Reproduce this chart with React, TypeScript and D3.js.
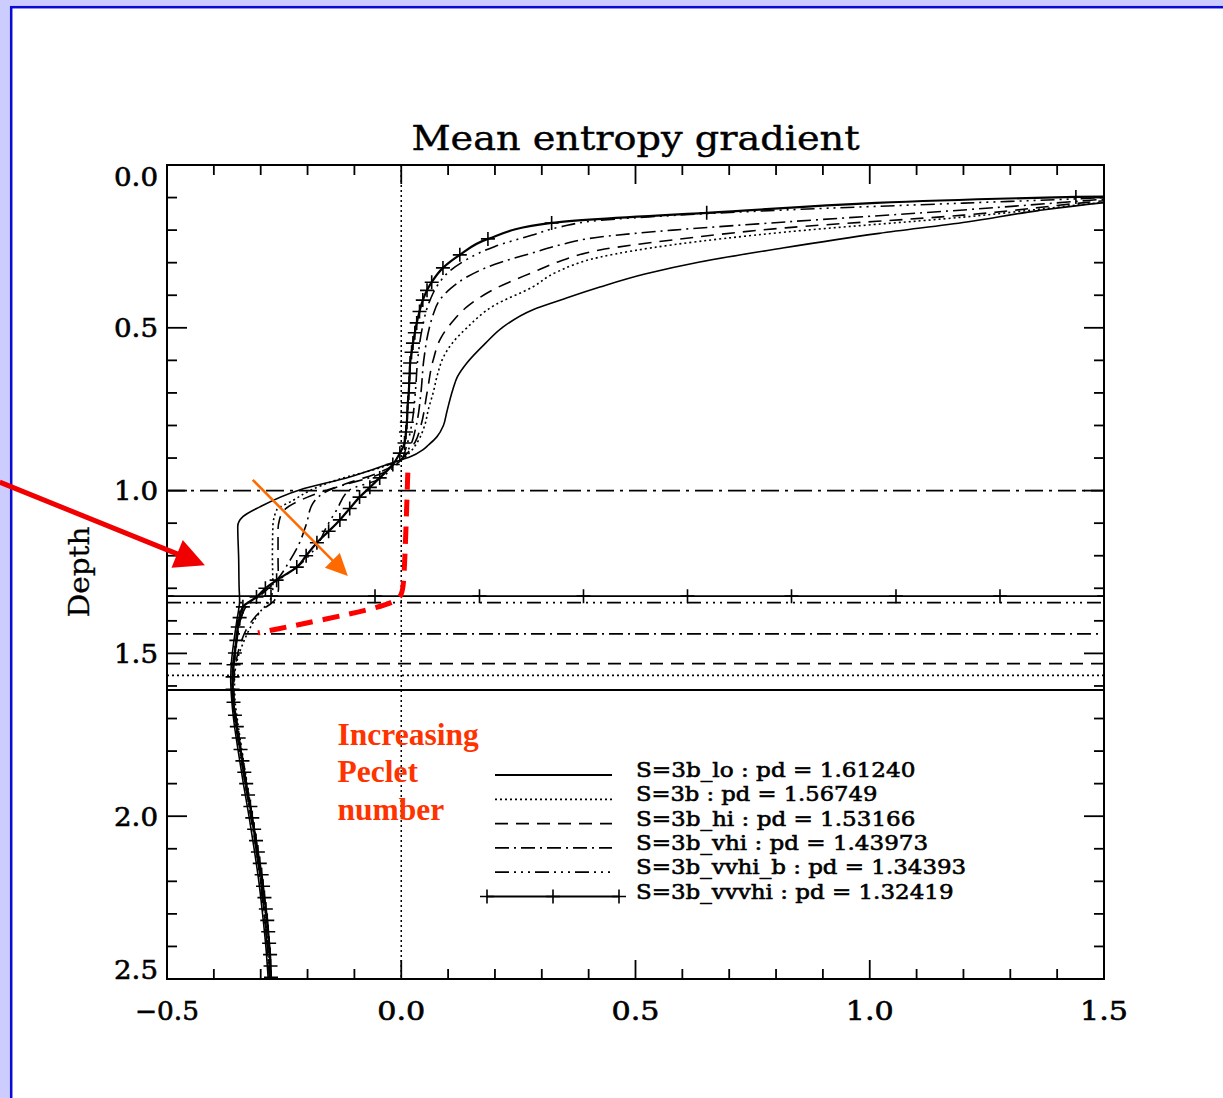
import React from 'react';
import * as d3 from 'd3';

// Axis domains and tick labels
const gradDomain: [number, number] = [-0.5, 1.5];
const depthDomain: [number, number] = [0, 2.5];
const xMajorTicks = [-0.5, 0, 0.5, 1.0, 1.5];
const xTickLabels = ['\u22120.5', '0.0', '0.5', '1.0', '1.5'];
const yMajorTicks = [0, 0.5, 1.0, 1.5, 2.0, 2.5];
const yTickLabels = ['0.0', '0.5', '1.0', '1.5', '2.0', '2.5'];

// Run labels and penetration depths (pd)
const runLabels = [
  'S=3b_lo : pd = 1.61240',
  'S=3b : pd = 1.56749',
  'S=3b_hi : pd = 1.53166',
  'S=3b_vhi : pd = 1.43973',
  'S=3b_vvhi_b : pd = 1.34393',
  'S=3b_vvvhi : pd = 1.32419',
];
const penetrationDepths = [1.6124, 1.56749, 1.53166, 1.43973, 1.34393, 1.32419];
const convectionBase = 1.0;

// Profiles: [depth, mean entropy gradient]
const profLo: [number, number][] = [
  [0.1, 1.62], [0.117, 1.49], [0.14, 1.36], [0.175, 1.207], [0.21, 1.02], [0.255, 0.814],
  [0.298, 0.637], [0.335, 0.52], [0.375, 0.424], [0.41, 0.35], [0.445, 0.28], [0.5, 0.215],
  [0.547, 0.18], [0.608, 0.14], [0.65, 0.12], [0.69, 0.11], [0.76, 0.097], [0.8, 0.09],
  [0.835, 0.076], [0.86, 0.058], [0.875, 0.046], [0.897, 0.018], [0.91, -0.01], [0.93, -0.05],
  [0.958, -0.11], [0.998, -0.217], [1.05, -0.302], [1.08, -0.338], [1.11, -0.349], [1.21, -0.347],
  [1.3, -0.346], [1.336, -0.345], [1.4, -0.351], [1.46, -0.357], [1.52, -0.362], [1.58, -0.364],
  [1.64, -0.362], [1.7, -0.358], [1.8, -0.348], [1.9, -0.337], [2.0, -0.325], [2.1, -0.314],
  [2.2, -0.304], [2.3, -0.296], [2.4, -0.289], [2.5, -0.284],
];
const profBase: [number, number][] = [
  [0.095, 1.65], [0.115, 1.5], [0.16, 1.2], [0.206, 0.82], [0.245, 0.58], [0.283, 0.424],
  [0.33, 0.33], [0.375, 0.28], [0.43, 0.2], [0.5, 0.14], [0.545, 0.11], [0.59, 0.09],
  [0.64, 0.078], [0.7, 0.068], [0.75, 0.058], [0.8, 0.05], [0.85, 0.035], [0.88, 0.02],
  [0.905, 0.0], [0.927, -0.039], [0.967, -0.137], [1.0, -0.195], [1.03, -0.231], [1.06, -0.266],
  [1.11, -0.274], [1.2, -0.275], [1.296, -0.274], [1.336, -0.28], [1.37, -0.3], [1.42, -0.322],
  [1.47, -0.338], [1.52, -0.35], [1.58, -0.356], [1.64, -0.355], [1.7, -0.35], [1.8, -0.34],
  [1.9, -0.329], [2.0, -0.318], [2.1, -0.307], [2.2, -0.298], [2.3, -0.29], [2.4, -0.284],
  [2.5, -0.279],
];
const profHi: [number, number][] = [
  [0.092, 1.65], [0.11, 1.5], [0.154, 1.2], [0.193, 0.82], [0.23, 0.58], [0.261, 0.424],
  [0.295, 0.34], [0.33, 0.28], [0.38, 0.2], [0.436, 0.14], [0.48, 0.11], [0.53, 0.085],
  [0.6, 0.068], [0.7, 0.055], [0.8, 0.042], [0.85, 0.03], [0.88, 0.016], [0.905, 0.0],
  [0.94, -0.04], [0.98, -0.12], [1.02, -0.2], [1.06, -0.25], [1.09, -0.26], [1.12, -0.263],
  [1.2, -0.263], [1.3, -0.262], [1.336, -0.27], [1.37, -0.3], [1.42, -0.328], [1.47, -0.343],
  [1.52, -0.352], [1.58, -0.357], [1.64, -0.357], [1.7, -0.352], [1.8, -0.342], [1.9, -0.331],
  [2.0, -0.32], [2.1, -0.309], [2.2, -0.3], [2.3, -0.292], [2.4, -0.285], [2.5, -0.28],
];
const profVhi: [number, number][] = [
  [0.088, 1.65], [0.105, 1.5], [0.138, 1.2], [0.175, 0.82], [0.2, 0.58], [0.221, 0.424],
  [0.245, 0.34], [0.27, 0.28], [0.305, 0.2], [0.344, 0.14], [0.38, 0.105], [0.415, 0.082],
  [0.46, 0.068], [0.5, 0.06], [0.6, 0.048], [0.7, 0.042], [0.8, 0.032], [0.86, 0.02],
  [0.905, 0.0], [0.946, -0.039], [0.998, -0.153], [1.04, -0.189], [1.1, -0.202], [1.16, -0.217],
  [1.22, -0.24], [1.275, -0.266], [1.327, -0.309], [1.36, -0.333], [1.42, -0.346], [1.47, -0.352],
  [1.52, -0.357], [1.58, -0.36], [1.64, -0.359], [1.7, -0.354], [1.8, -0.344], [1.9, -0.333],
  [2.0, -0.321], [2.1, -0.31], [2.2, -0.3], [2.3, -0.292], [2.4, -0.286], [2.5, -0.281],
];
const profVvhiB: [number, number][] = [
  [0.085, 1.65], [0.1, 1.5], [0.117, 1.2], [0.138, 0.82], [0.155, 0.58], [0.17, 0.424],
  [0.19, 0.34], [0.215, 0.28], [0.25, 0.2], [0.29, 0.14], [0.33, 0.1], [0.36, 0.082],
  [0.42, 0.06], [0.5, 0.045], [0.6, 0.035], [0.7, 0.03], [0.8, 0.022], [0.86, 0.012],
  [0.905, 0.0], [0.94, -0.025], [0.967, -0.051], [0.998, -0.11], [1.06, -0.138], [1.11, -0.159],
  [1.17, -0.18], [1.235, -0.223], [1.275, -0.262], [1.327, -0.305], [1.36, -0.333], [1.42, -0.347],
  [1.47, -0.353], [1.52, -0.358], [1.58, -0.361], [1.64, -0.36], [1.7, -0.355], [1.8, -0.345],
  [1.9, -0.333], [2.0, -0.321], [2.1, -0.31], [2.2, -0.301], [2.3, -0.293], [2.4, -0.286],
  [2.5, -0.281],
];
const profVvvhi: [number, number][] = [
  [0.094, 1.7], [0.098, 1.44], [0.147, 0.652], [0.178, 0.321], [0.227, 0.185], [0.276, 0.125],
  [0.316, 0.089], [0.36, 0.065], [0.385, 0.055], [0.415, 0.046], [0.45, 0.039], [0.485, 0.033],
  [0.515, 0.029], [0.547, 0.025], [0.575, 0.022], [0.608, 0.019], [0.64, 0.018], [0.67, 0.017],
  [0.7, 0.016], [0.73, 0.014], [0.76, 0.013], [0.79, 0.012], [0.82, 0.01], [0.854, 0.007],
  [0.885, -0.003], [0.92, -0.018], [0.961, -0.046], [0.99, -0.067], [1.02, -0.089], [1.055, -0.11],
  [1.09, -0.131], [1.125, -0.155], [1.16, -0.18], [1.2, -0.203], [1.235, -0.223], [1.275, -0.266],
  [1.3, -0.29], [1.327, -0.309], [1.357, -0.338], [1.39, -0.345], [1.419, -0.349], [1.46, -0.352],
  [1.499, -0.355], [1.535, -0.358], [1.572, -0.36], [1.61, -0.36], [1.65, -0.358], [1.69, -0.355],
  [1.725, -0.351], [1.76, -0.347], [1.795, -0.343], [1.83, -0.339], [1.865, -0.335], [1.9, -0.331],
  [1.935, -0.327], [1.97, -0.322], [2.005, -0.318], [2.04, -0.314], [2.075, -0.31], [2.11, -0.306],
  [2.145, -0.302], [2.18, -0.298], [2.215, -0.295], [2.25, -0.292], [2.285, -0.289], [2.32, -0.286],
  [2.355, -0.284], [2.39, -0.282], [2.425, -0.28], [2.46, -0.279], [2.495, -0.278],
];
// Marker positions along the pd line of the last run
const pdLineMarks = [-0.5, -0.278, -0.056, 0.167, 0.389, 0.611, 0.833, 1.056, 1.278, 1.5];

const profiles = [profLo, profBase, profHi, profVhi, profVvhiB, profVvvhi];
const dashes = ['none', '2,3', '13,8', '14,5,2,5', '14,5,2,5,2,5,2,5', 'none'];

// Annotations, in [gradient, depth]
const peArrowRed: [number, number][] = [[-0.857, 0.974], [-0.419, 1.229]];
const peArrowOrange: [number, number][] = [[-0.317, 0.967], [-0.114, 1.262]];
const pdTrend: [number, number][] = [[0.014, 0.945], [0.006, 1.3], [0.0, 1.33], [-0.04, 1.36], [-0.306, 1.437]];
const peText = ['Increasing', 'Peclet', 'number'];
const peTextAt: [number, number] = [-0.136, 1.781];

const PL = 167, PR = 1104, PT = 165, PB = 979;
const SERIF = "'DejaVu Serif', 'Liberation Serif', serif";

function SText(props: {
  x: number; y: number; size: number; width?: number; anchor?: string; heavy?: number;
  children: React.ReactNode;
}) {
  const { x, y, size, width, anchor = 'start', heavy = 0.5, children } = props;
  return (
    <text
      x={x}
      y={y}
      fontFamily={SERIF}
      fontSize={size}
      textAnchor={anchor as any}
      textLength={width}
      lengthAdjust={width ? 'spacingAndGlyphs' : undefined}
      fill="#000"
      stroke="#000"
      strokeWidth={heavy}
    >
      {children}
    </text>
  );
}

function Arrow(props: { from: [number, number]; to: [number, number]; color: string; width: number; headLen: number; headW: number }) {
  const { from, to, color, width, headLen, headW } = props;
  const dx = to[0] - from[0], dy = to[1] - from[1];
  const len = Math.hypot(dx, dy);
  const ux = dx / len, uy = dy / len;
  const bx = to[0] - ux * headLen, by = to[1] - uy * headLen;
  const nx = -uy, ny = ux;
  const pts = [
    [to[0], to[1]],
    [bx + nx * headW / 2, by + ny * headW / 2],
    [bx - nx * headW / 2, by - ny * headW / 2],
  ].map((p) => p.join(',')).join(' ');
  return (
    <g>
      <line x1={from[0]} y1={from[1]} x2={bx + ux * 2} y2={by + uy * 2} stroke={color} strokeWidth={width} />
      <polygon points={pts} fill={color} />
    </g>
  );
}

function Plus({ x, y, s = 7 }: { x: number; y: number; s?: number }) {
  return <path d={`M${x - s},${y}H${x + s}M${x},${y - s}V${y + s}`} stroke="#000" strokeWidth={1.6} fill="none" />;
}

export default function App() {
  const x = d3.scaleLinear().domain(gradDomain).range([PL, PR]);
  const y = d3.scaleLinear().domain(depthDomain).range([PT, PB]);
  const line = d3
    .line<[number, number]>()
    .x((d) => x(d[1]))
    .y((d) => y(d[0]))
    .curve(d3.curveMonotoneY);

  const xMinor = x.ticks(20);
  const yMinor = y.ticks(25);

  const legendX0 = 495, legendX1 = 612, legendTextX = 636, legendBase0 = 777, legendStep = 24.3, charW = 12.7;

  const trendPath = d3.line<[number, number]>().x((d) => x(d[0])).y((d) => y(d[1])).curve(d3.curveBasis)(pdTrend) || '';

  return (
    <svg width={1223} height={1098} style={{ position: 'absolute', left: 0, top: 0 }}>
      <defs>
        <clipPath id="plotArea">
          <rect x={PL} y={PT} width={PR - PL} height={PB - PT} />
        </clipPath>
      </defs>
      <rect x={0} y={0} width={1223} height={1098} fill="#ccccff" />
      <rect x={11.2} y={7.2} width={1300} height={1200} fill="#ffffff" stroke="#0a0ad6" strokeWidth={2.5} />

      {/* title */}
      <SText x={(PL + PR) / 2} y={150} size={34} width={448} anchor="middle" heavy={0.4}>Mean entropy gradient</SText>

      {/* zero-gradient reference */}
      <line x1={x(0)} x2={x(0)} y1={PT} y2={PB} stroke="#000" strokeWidth={1.5} strokeDasharray="2,3" />

      <g clipPath="url(#plotArea)">
        {/* base of convection zone */}
        <line x1={PL} x2={PR} y1={y(convectionBase)} y2={y(convectionBase)} stroke="#000" strokeWidth={1.8} strokeDasharray="18,6,3,6" />
        {/* penetration depths */}
        {penetrationDepths.map((pd, i) => (
          <line key={'pd' + i} x1={PL} x2={PR} y1={y(pd)} y2={y(pd)} stroke="#000" strokeWidth={1.8}
            strokeDasharray={dashes[i]} />
        ))}
        {pdLineMarks.map((g, i) => (
          <Plus key={'pm' + i} x={x(g)} y={y(penetrationDepths[5])} />
        ))}
        {/* profiles */}
        {profiles.map((p, i) => (
          <path key={'pr' + i} d={line(p) || ''} fill="none" stroke="#000"
            strokeWidth={i === 5 ? 2.2 : 1.6} strokeDasharray={dashes[i]} />
        ))}
        {profVvvhi.map((d, i) => (
          <Plus key={'pp' + i} x={x(d[1])} y={y(d[0])} />
        ))}
      </g>

      {/* frame and ticks */}
      <rect x={PL} y={PT} width={PR - PL} height={PB - PT} fill="none" stroke="#000" strokeWidth={2} />
      {xMinor.map((t, i) => {
        const major = xMajorTicks.some((m) => Math.abs(m - t) < 1e-6);
        const L = major ? 19 : 10;
        return (
          <g key={'xt' + i}>
            <line x1={x(t)} x2={x(t)} y1={PB} y2={PB - L} stroke="#000" strokeWidth={1.8} />
            <line x1={x(t)} x2={x(t)} y1={PT} y2={PT + L} stroke="#000" strokeWidth={1.8} />
          </g>
        );
      })}
      {yMinor.map((t, i) => {
        const major = yMajorTicks.some((m) => Math.abs(m - t) < 1e-6);
        const L = major ? 20 : 10;
        return (
          <g key={'yt' + i}>
            <line x1={PL} x2={PL + L} y1={y(t)} y2={y(t)} stroke="#000" strokeWidth={1.8} />
            <line x1={PR} x2={PR - L} y1={y(t)} y2={y(t)} stroke="#000" strokeWidth={1.8} />
          </g>
        );
      })}
      {xMajorTicks.map((t, i) => (
        <SText key={'xl' + i} x={x(t)} y={1020} size={26} width={xTickLabels[i].length * 16} anchor="middle" heavy={0.6}>{xTickLabels[i]}</SText>
      ))}
      {yMajorTicks.map((t, i) => {
        const cy = Math.min(Math.max(y(t), PT + 11), PB - 10);
        return (
          <SText key={'yl' + i} x={158} y={cy + 9.5} size={26} width={44} anchor="end" heavy={0.6}>{yTickLabels[i]}</SText>
        );
      })}
      <text transform={`translate(89,572) rotate(-90)`} fontFamily={SERIF} fontSize={28} textAnchor="middle"
        textLength={91} lengthAdjust="spacingAndGlyphs" fill="#000" stroke="#000" strokeWidth={0.3}>Depth</text>

      {/* legend */}
      {runLabels.map((lab, i) => {
        const by = legendBase0 + i * legendStep;
        const ly = by - 2;
        return (
          <g key={'lg' + i}>
            {i === 5 ? (
              <g>
                <line x1={487} x2={619} y1={ly} y2={ly} stroke="#000" strokeWidth={2} />
                {[487, 553, 619].map((px) => <Plus key={px} x={px} y={ly} />)}
              </g>
            ) : (
              <line x1={legendX0} x2={legendX1} y1={ly} y2={ly} stroke="#000" strokeWidth={1.8} strokeDasharray={dashes[i]} />
            )}
            <SText x={legendTextX} y={by} size={21} width={lab.length * charW} heavy={0.6}>{lab}</SText>
          </g>
        );
      })}

      {/* annotations */}
      <Arrow from={[x(peArrowRed[0][0]), y(peArrowRed[0][1])]} to={[x(peArrowRed[1][0]), y(peArrowRed[1][1])]}
        color="#f00000" width={5} headLen={30} headW={30} />
      <Arrow from={[x(peArrowOrange[0][0]), y(peArrowOrange[0][1])]} to={[x(peArrowOrange[1][0]), y(peArrowOrange[1][1])]}
        color="#ff6a00" width={2.5} headLen={22} headW={21} />
      <path d={trendPath} fill="none" stroke="#ff0000" strokeWidth={5} strokeDasharray="17,10" />
      {peText.map((t, i) => (
        <text key={'pt' + i} x={x(peTextAt[0])} y={y(peTextAt[1]) + i * 37.5} fontFamily="'Liberation Serif', 'Times New Roman', serif"
          fontWeight="bold" fontSize={31.5} fill="#ff3300">{t}</text>
      ))}
    </svg>
  );
}
